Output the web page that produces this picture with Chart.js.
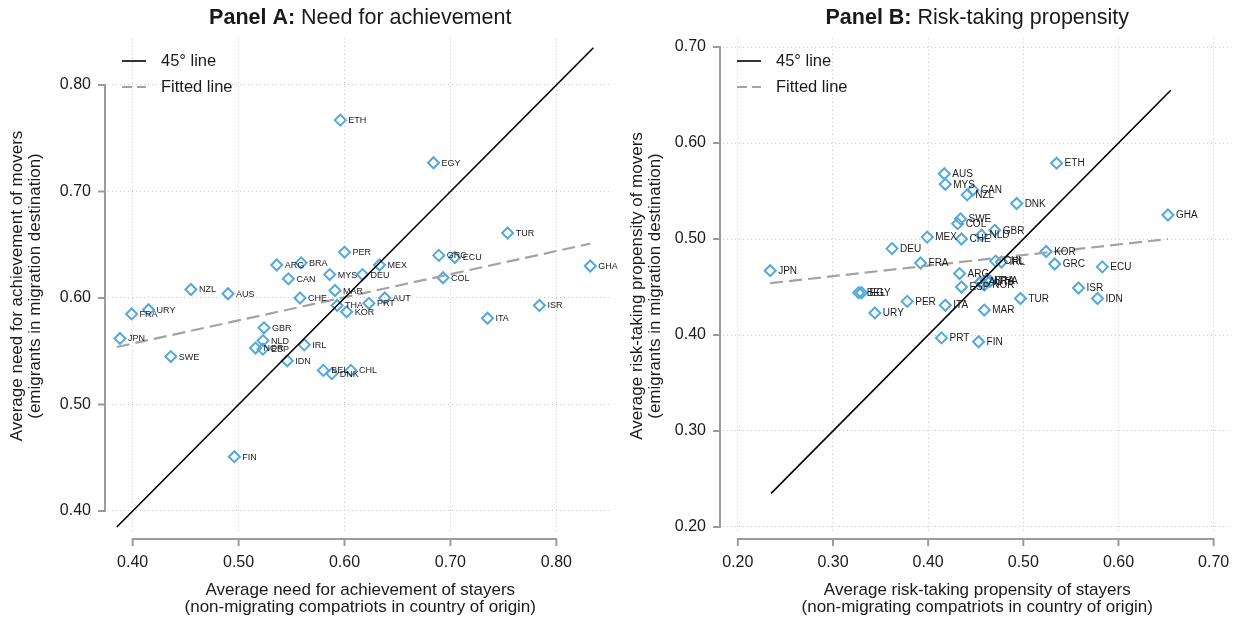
<!DOCTYPE html>
<html lang="en">
<head>
<meta charset="utf-8">
<title>Movers vs stayers: need for achievement and risk-taking</title>
<script src="https://cdn.jsdelivr.net/npm/chart.js@4.4.1/dist/chart.umd.min.js"></script>
<style>
  html, body { margin: 0; padding: 0; background: #ffffff; }
  #page { position: relative; width: 1239px; height: 617px; overflow: hidden; background: #ffffff; }
  #page canvas { position: absolute; top: 0; }
</style>
</head>
<body>
<div id="page">
  <canvas id="panelA" width="620" height="617" style="left:0px"></canvas>
  <canvas id="panelB" width="619" height="617" style="left:620px"></canvas>
</div>
<script>
// ---------- Panel A: need for achievement ----------
const countriesA = ['ETH','EGY','TUR','GHA','GRC','ECU','COL','ISR','ITA','PER',
                    'MEX','DEU','MYS','MAR','AUT','PRT','THA','KOR','BRA','ARG',
                    'CAN','CHE','NZL','AUS','URY','FRA','JPN','SWE','GBR','NLD',
                    'NOR','ESP','IRL','IDN','BEL','DNK','CHL','FIN'];
const achStayers = [0.596,0.684,0.754,0.832,0.689,0.704,0.693,0.784,0.735,0.600,
                    0.633,0.617,0.586,0.591,0.638,0.623,0.593,0.602,0.559,0.536,
                    0.547,0.558,0.455,0.490,0.415,0.399,0.388,0.436,0.524,0.523,
                    0.516,0.523,0.562,0.546,0.580,0.588,0.606,0.496];
const achMovers  = [0.767,0.727,0.661,0.630,0.640,0.638,0.619,0.593,0.581,0.643,
                    0.631,0.622,0.622,0.607,0.600,0.595,0.593,0.587,0.633,0.631,
                    0.618,0.600,0.608,0.604,0.589,0.585,0.562,0.545,0.572,0.560,
                    0.553,0.552,0.556,0.541,0.532,0.529,0.532,0.451];
const ticksAx = [0.40, 0.50, 0.60, 0.70, 0.80];
const ticksAy = [0.40, 0.50, 0.60, 0.70, 0.80];
const diagA   = [0.385, 0.835];          // 45° line end points (x = y)
const fitAx   = [0.385, 0.832];          // fitted line end points
const fitAy   = [0.554, 0.651];

// ---------- Panel B: risk-taking propensity ----------
const countriesB = ['JPN','DEU','MEX','FRA','AUS','MYS','BEL','EGY','PER','URY',
                    'CHE','NLD','CHL','IRL','ARG','ESP','ITA','MAR','TUR','PRT',
                    'FIN','KOR','ETH','DNK','GHA','GBR','GRC','ECU','ISR','IDN',
                    'CAN','NZL','SWE','COL','AUT','BRA','THA','NOR'];
const riskStayers = [0.234,0.362,0.399,0.392,0.417,0.418,0.327,0.330,0.378,0.344,
                     0.435,0.456,0.471,0.477,0.433,0.435,0.418,0.459,0.497,0.414,
                     0.453,0.524,0.535,0.493,0.652,0.470,0.533,0.583,0.558,0.578,
                     0.447,0.441,0.434,0.431,0.455,0.461,0.465,0.459];
const riskMovers  = [0.467,0.490,0.502,0.475,0.568,0.557,0.444,0.444,0.435,0.423,
                     0.500,0.504,0.477,0.476,0.464,0.450,0.431,0.426,0.438,0.397,
                     0.393,0.487,0.579,0.537,0.525,0.509,0.474,0.471,0.449,0.438,
                     0.551,0.546,0.521,0.516,0.455,0.457,0.456,0.452];
const ticksBx = [0.20, 0.30, 0.40, 0.50, 0.60, 0.70];
const ticksBy = [0.20, 0.30, 0.40, 0.50, 0.60, 0.70];
const diagB   = [0.235, 0.655];
const fitBx   = [0.234, 0.652];
const fitBy   = [0.454, 0.500];

// ---------- shared styling ----------
const FONT = "'Liberation Sans', Arial, Helvetica, sans-serif";
const MARKER = '#52a9da';
const AXIS_GREY = '#9b9b9b';
const GRID_GREY = '#c9c9c9';
const FIT_GREY = '#a3a3a3';
const TEXT = '#1a1a1a';

function buildPanel(canvasId, p) {
  const canvas = document.getElementById(canvasId);
  const W = canvas.width, H = canvas.height;
  const area = p.area;

  const points = p.xs.map((v, i) => ({ x: v, y: p.ys[i] }));

  // axis lines drawn a few pixels outside the plot region, spanning the tick range
  const axisPlugin = {
    id: 'offsetAxes',
    beforeDatasetsDraw(chart) {
      const { ctx, chartArea: a, scales: { x, y } } = chart;
      ctx.save();
      ctx.strokeStyle = AXIS_GREY;
      ctx.lineWidth = 2;
      ctx.lineCap = 'butt';
      const ax = a.left - 3;
      const y0 = y.getPixelForValue(p.yTicks[0]);
      const y1 = y.getPixelForValue(p.yTicks[p.yTicks.length - 1]);
      ctx.beginPath();
      ctx.moveTo(ax, y1 - 1); ctx.lineTo(ax, y0 + 1);
      p.yTicks.forEach(v => {
        const py = y.getPixelForValue(v);
        ctx.moveTo(ax, py); ctx.lineTo(ax - 7, py);
      });
      const ay = a.bottom + 5;
      const x0 = x.getPixelForValue(p.xTicks[0]);
      const x1 = x.getPixelForValue(p.xTicks[p.xTicks.length - 1]);
      ctx.moveTo(x0 - 1, ay); ctx.lineTo(x1 + 1, ay);
      p.xTicks.forEach(v => {
        const px = x.getPixelForValue(v);
        ctx.moveTo(px, ay); ctx.lineTo(px, ay + 7);
      });
      ctx.stroke();
      ctx.restore();
    }
  };

  // country codes beside each marker
  const labelPlugin = {
    id: 'pointLabels',
    afterDatasetsDraw(chart) {
      const { ctx } = chart;
      const meta = chart.getDatasetMeta(2);
      ctx.save();
      ctx.font = p.labelSize + 'px ' + FONT;
      ctx.fillStyle = TEXT;
      ctx.textAlign = 'left';
      ctx.textBaseline = 'middle';
      meta.data.forEach((el, i) => {
        ctx.fillText(p.labels[i], el.x + 8, el.y + 0.5);
      });
      ctx.restore();
    }
  };

  // panel heading (bold prefix + regular text) and the in-plot legend
  const decorPlugin = {
    id: 'panelDecor',
    afterDraw(chart) {
      const { ctx, chartArea: a } = chart;
      ctx.save();
      ctx.fillStyle = TEXT;
      ctx.textBaseline = 'middle';
      const boldF = 'bold 21.5px ' + FONT, regF = '21.5px ' + FONT;
      ctx.font = boldF; const wb = ctx.measureText(p.titleBold).width;
      ctx.font = regF;  const wr = ctx.measureText(p.titleRest).width;
      const tx = (a.left + a.right) / 2 - (wb + wr) / 2;
      ctx.textAlign = 'left';
      ctx.font = boldF; ctx.fillText(p.titleBold, tx, 18);
      ctx.font = regF;  ctx.fillText(p.titleRest, tx + wb, 18);

      const lx0 = a.left + 14, lx1 = a.left + 38, tx2 = a.left + 53;
      const ly1 = 61, ly2 = 87;
      ctx.strokeStyle = '#000000'; ctx.lineWidth = 1.6;
      ctx.beginPath(); ctx.moveTo(lx0, ly1); ctx.lineTo(lx1, ly1); ctx.stroke();
      ctx.strokeStyle = FIT_GREY; ctx.lineWidth = 2.2; ctx.setLineDash([10, 5]);
      ctx.beginPath(); ctx.moveTo(lx0, ly2); ctx.lineTo(lx1, ly2); ctx.stroke();
      ctx.setLineDash([]);
      ctx.font = '16.5px ' + FONT;
      ctx.fillText('45° line', tx2, ly1);
      ctx.fillText('Fitted line', tx2, ly2);
      ctx.restore();
    }
  };

  const fixTicks = list => scale => { scale.ticks = list.map(v => ({ value: v })); };

  return new Chart(canvas, {
    type: 'scatter',
    data: {
      datasets: [
        {
          label: '45° line',
          data: [{ x: p.diag[0], y: p.diag[0] }, { x: p.diag[1], y: p.diag[1] }],
          showLine: true, borderColor: '#000000', borderWidth: 1.6,
          pointRadius: 0, order: 0
        },
        {
          label: 'Fitted line',
          data: [{ x: p.fitX[0], y: p.fitY[0] }, { x: p.fitX[1], y: p.fitY[1] }],
          showLine: true, borderColor: FIT_GREY, borderWidth: 2.2, borderDash: [13, 6],
          pointRadius: 0, order: 1
        },
        {
          label: 'Countries',
          data: points,
          pointStyle: 'rectRot', pointRadius: 5.5, borderWidth: 2,
          borderColor: MARKER, backgroundColor: 'rgba(0,0,0,0)',
          showLine: false, order: 2
        }
      ]
    },
    options: {
      responsive: false,
      animation: false,
      devicePixelRatio: 1,
      layout: { padding: { left: 0, top: area.top, right: W - area.right, bottom: 0 } },
      plugins: { legend: { display: false }, tooltip: { enabled: false }, title: { display: false } },
      scales: {
        x: {
          type: 'linear', min: p.xMin, max: p.xMax,
          afterBuildTicks: fixTicks(p.xTicks),
          afterFit: s => { s.height = H - area.bottom; s.paddingLeft = 0; s.paddingRight = 0; },
          grid: { color: GRID_GREY, lineWidth: 1, drawTicks: false },
          border: { display: false, dash: [1, 3] },
          ticks: {
            autoSkip: false, maxRotation: 0, padding: 19, color: TEXT,
            font: { family: FONT, size: 16 },
            callback: v => Number(v).toFixed(2)
          },
          title: {
            display: true, text: p.xTitle, color: TEXT,
            font: { family: FONT, size: 17, lineHeight: '17px' },
            padding: { top: 0, bottom: 1.5 }
          }
        },
        y: {
          type: 'linear', min: p.yMin, max: p.yMax,
          afterBuildTicks: fixTicks(p.yTicks),
          afterFit: s => { s.width = area.left; s.paddingTop = 0; s.paddingBottom = 0; },
          grid: { color: GRID_GREY, lineWidth: 1, drawTicks: false },
          border: { display: false, dash: [1, 3] },
          ticks: {
            autoSkip: false, padding: 17, color: TEXT,
            font: { family: FONT, size: 16 },
            callback: v => Number(v).toFixed(2)
          },
          title: {
            display: true, text: p.yTitle, color: TEXT,
            font: { family: FONT, size: 17, lineHeight: '18px' },
            padding: { top: 8, bottom: 0 }
          }
        }
      }
    },
    plugins: [axisPlugin, labelPlugin, decorPlugin]
  });
}

buildPanel('panelA', {
  labels: countriesA, xs: achStayers, ys: achMovers,
  xTicks: ticksAx, yTicks: ticksAy,
  xMin: 0.3767, xMax: 0.853, yMin: 0.3784, yMax: 0.8441,
  area: { left: 108, right: 620, top: 38, bottom: 534 },
  diag: diagA, fitX: fitAx, fitY: fitAy,
  labelSize: 9,
  titleBold: 'Panel A:', titleRest: ' Need for achievement',
  xTitle: ['Average need for achievement of stayers', '(non-migrating compatriots in country of origin)'],
  yTitle: ['Average need for achievement of movers', '(emigrants in migration destination)']
});

buildPanel('panelB', {
  labels: countriesB, xs: riskStayers, ys: riskMovers,
  xTicks: ticksBx, yTicks: ticksBy,
  xMin: 0.1844, xMax: 0.7188, yMin: 0.1927, yMax: 0.7094,
  area: { left: 103, right: 616, top: 38, bottom: 534 },
  diag: diagB, fitX: fitBx, fitY: fitBy,
  labelSize: 10,
  titleBold: 'Panel B:', titleRest: ' Risk-taking propensity',
  xTitle: ['Average risk-taking propensity of stayers', '(non-migrating compatriots in country of origin)'],
  yTitle: ['Average risk-taking propensity of movers', '(emigrants in migration destination)']
});
</script>
</body>
</html>
